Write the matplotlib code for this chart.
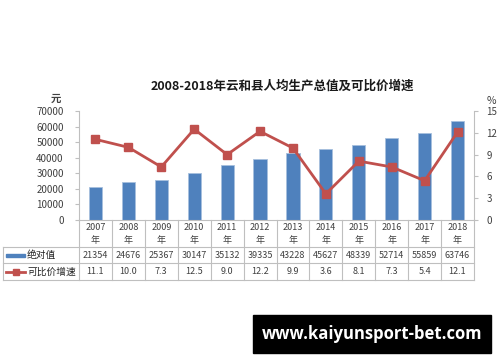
import matplotlib.pyplot as plt
from matplotlib.patches import Rectangle
from matplotlib.lines import Line2D

plt.rcParams['font.family'] = ['Noto Sans CJK SC', 'DejaVu Sans']

# ---- data ----
years = ['2007', '2008', '2009', '2010', '2011', '2012',
         '2013', '2014', '2015', '2016', '2017', '2018']
gdp_pc = [21354, 24676, 25367, 30147, 35132, 39335,
          43228, 45627, 48339, 52714, 55859, 63746]
growth = [11.1, 10.0, 7.3, 12.5, 9.0, 12.2, 9.9, 3.6, 8.1, 7.3, 5.4, 12.1]
left_ticks = [0, 10000, 20000, 30000, 40000, 50000, 60000, 70000]
right_ticks = [0, 3, 6, 9, 12, 15]

BLUE = '#4F81BD'
RED = '#C0504D'
GRID = '#BFBFBF'
TXT = '#404040'

W, H = 500, 362
fig = plt.figure(figsize=(5.0, 3.62), dpi=100)
ax = fig.add_axes([79 / W, 1 - 220 / H, (474 - 79) / W, (220 - 111) / H])
ax2 = ax.twinx()

x = list(range(len(years)))
ax.bar(x, gdp_pc, width=0.4, color=BLUE, edgecolor='#A7C0DE', linewidth=0.6, zorder=2)
ax2.plot(x, growth, color=RED, linewidth=2, marker='s', markersize=6,
         markerfacecolor=RED, markeredgecolor=RED, zorder=3)

ax.set_xlim(-0.5, len(years) - 0.5)
ax.set_ylim(0, 70000)
ax2.set_ylim(0, 15)
ax.set_yticks(left_ticks)
ax2.set_yticks(right_ticks)
ax.set_xticks([])
for a in (ax, ax2):
    for s in a.spines.values():
        s.set_visible(False)
    a.tick_params(axis='y', labelsize=7, colors=GRID, labelcolor=TXT,
                  length=3, width=0.8, pad=8)
ax.spines['left'].set_visible(True)
ax.spines['left'].set_color(GRID)
ax2.spines['right'].set_visible(True)
ax2.spines['right'].set_color(GRID)
ax.spines['bottom'].set_visible(True)
ax.spines['bottom'].set_color(GRID)
ax2.tick_params(axis='y', pad=6)

fig.text(282 / W, 1 - 86 / H, '2008-2018年云和县人均生产总值及可比价增速',
         ha='center', va='center', fontsize=9, fontweight='bold', color='#1a1a1a')
fig.text(56 / W, 1 - 99 / H, '元', ha='center', va='center', fontsize=7.5,
         fontweight='bold', color=TXT)
fig.text(491 / W, 1 - 101 / H, '%', ha='center', va='center', fontsize=7.5, color=TXT)

# ---- data table below the plot ----
def fy(py):
    return 1 - py / H

def fx(px):
    return px / W

n = len(years)
x0, x1 = 79, 474
cw = (x1 - x0) / n
lc = dict(color=GRID, linewidth=0.8)
# vertical lines in table
for i in range(n + 1):
    fig.add_artist(Line2D([fx(x0 + i * cw)] * 2, [fy(220), fy(280)], **lc))
fig.add_artist(Line2D([fx(3)] * 2, [fy(247), fy(280)], **lc))
for py in (247, 263, 280):
    fig.add_artist(Line2D([fx(3), fx(x1)], [fy(py)] * 2, **lc))

for i, yr in enumerate(years):
    cx = fx(x0 + (i + 0.5) * cw)
    fig.text(cx, fy(227), yr, ha='center', va='center', fontsize=6.5, color=TXT)
    fig.text(cx, fy(240), '年', ha='center', va='center', fontsize=6.5, color=TXT)
    fig.text(cx, fy(255), str(gdp_pc[i]), ha='center', va='center', fontsize=6.5, color=TXT)
    fig.text(cx, fy(271.5), f'{growth[i]:.1f}', ha='center', va='center', fontsize=6.5, color=TXT)

# legend keys
fig.add_artist(Rectangle((fx(6), fy(256.5)), fx(19), 3 / H, color=BLUE))
fig.add_artist(Line2D([fx(6), fx(25)], [fy(271.5)] * 2, color=RED, linewidth=2))
fig.add_artist(Line2D([fx(15.5)], [fy(271.5)], color=RED, marker='s', markersize=4.5))
fig.text(fx(27), fy(255), '绝对值', ha='left', va='center', fontsize=7, color='#222222')
fig.text(fx(27), fy(271.5), '可比价增速', ha='left', va='center', fontsize=7, color='#222222')

# watermark box
fig.add_artist(Rectangle((fx(253), fy(353)), fx(238), 38 / H, color='black'))
fig.text(fx(372), fy(334), 'www.kaiyunsport-bet.com', ha='center', va='center',
         fontsize=12, fontweight='bold', color='white', family=['Open Sans', 'DejaVu Sans'])

fig.savefig('out.png', dpi=100)
